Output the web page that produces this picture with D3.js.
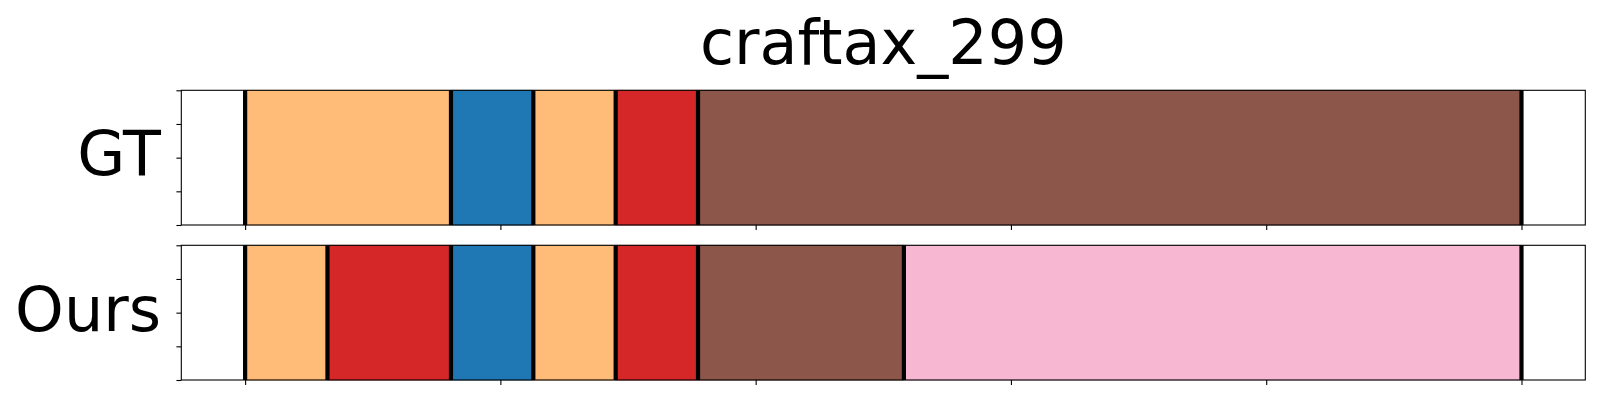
<!DOCTYPE html>
<html>
<head>
<meta charset="utf-8">
<script src="https://cdn.jsdelivr.net/npm/d3@7"></script>
<style>
  html, body { margin: 0; padding: 0; background: #fff; }
  svg { display: block; font-family: "DejaVu Sans", sans-serif; }
</style>
</head>
<body>
<svg id="chart" width="1600" height="400"></svg>
<script>
// ---- data (segment boundaries in time steps, out of a total of 31) ----
const title = "craftax_299";
const totalSteps = 31;
const rowNames = ["GT", "Ours"];
const gtBounds = [0, 5, 7, 9, 11, 31];
const gtClasses = ["c3", "c0", "c3", "c6", "c10"];
const oursBounds = [0, 2, 5, 7, 9, 11, 16, 31];
const oursClasses = ["c3", "c6", "c0", "c3", "c6", "c10", "c13"];
const xTicks = [0, 0.2, 0.4, 0.6, 0.8, 1.0];
const yTicks = [0, 0.25, 0.5, 0.75, 1.0];
const classColors = {c0: "#1f77b4", c3: "#ffbb78", c6: "#d62728", c10: "#8c564b", c13: "#f7b6d2"};

const rows = [
  {name: rowNames[0], bounds: gtBounds, classes: gtClasses},
  {name: rowNames[1], bounds: oursBounds, classes: oursClasses}
];

const svg = d3.select("#chart");
const left = 181.3, right = 1585.3;
const panelTops = [90.3, 245.3];
const panelH = 134.7;

const x = d3.scaleLinear().domain([-0.05, 1.05]).range([left, right]);

svg.append("text")
  .attr("x", (left + right) / 2).attr("y", 63.5)
  .attr("text-anchor", "middle")
  .attr("font-size", 62)
  .text(title);

rows.forEach((row, i) => {
  const top = panelTops[i];
  const y = d3.scaleLinear().domain([0, 1]).range([top + panelH, top]);
  const g = svg.append("g");

  const segs = row.classes.map((c, k) => ({
    c, s: row.bounds[k] / totalSteps, e: row.bounds[k + 1] / totalSteps
  }));

  g.selectAll("rect.seg").data(segs).enter().append("rect")
    .attr("class", "seg")
    .attr("x", d => x(d.s))
    .attr("width", d => x(d.e) - x(d.s))
    .attr("y", y(1))
    .attr("height", y(0) - y(1))
    .attr("fill", d => classColors[d.c])
    .attr("stroke", d => d3.color(classColors[d.c]).darker(0.3))
    .attr("stroke-width", 0.8);

  g.selectAll("line.bd").data(row.bounds).enter().append("line")
    .attr("class", "bd")
    .attr("x1", d => x(d / totalSteps)).attr("x2", d => x(d / totalSteps))
    .attr("y1", y(1)).attr("y2", y(0))
    .attr("stroke", "#000").attr("stroke-width", 4.2);

  // axes
  const xAxis = d3.axisBottom(x).tickValues(xTicks).tickFormat("").tickSizeOuter(0).tickSizeInner(4.9);
  const yAxis = d3.axisLeft(y).tickValues(yTicks).tickFormat("").tickSizeOuter(0).tickSizeInner(4.9);
  const gx = g.append("g").attr("transform", `translate(0,${y(0)})`).call(xAxis);
  const gy = g.append("g").attr("transform", `translate(${left},0)`).call(yAxis);
  [gx, gy].forEach(a => {
    a.select(".domain").remove();
    a.selectAll(".tick line").attr("stroke", "#000").attr("stroke-width", 1.1);
  });

  g.append("rect")
    .attr("x", left).attr("y", y(1))
    .attr("width", right - left).attr("height", y(0) - y(1))
    .attr("fill", "none").attr("stroke", "#000").attr("stroke-width", 1.1);

  g.append("text")
    .attr("x", 161).attr("y", i === 0 ? 175 : 331)
    .attr("text-anchor", "end")
    .attr("font-size", 62)
    .text(row.name);
});
</script>
</body>
</html>
